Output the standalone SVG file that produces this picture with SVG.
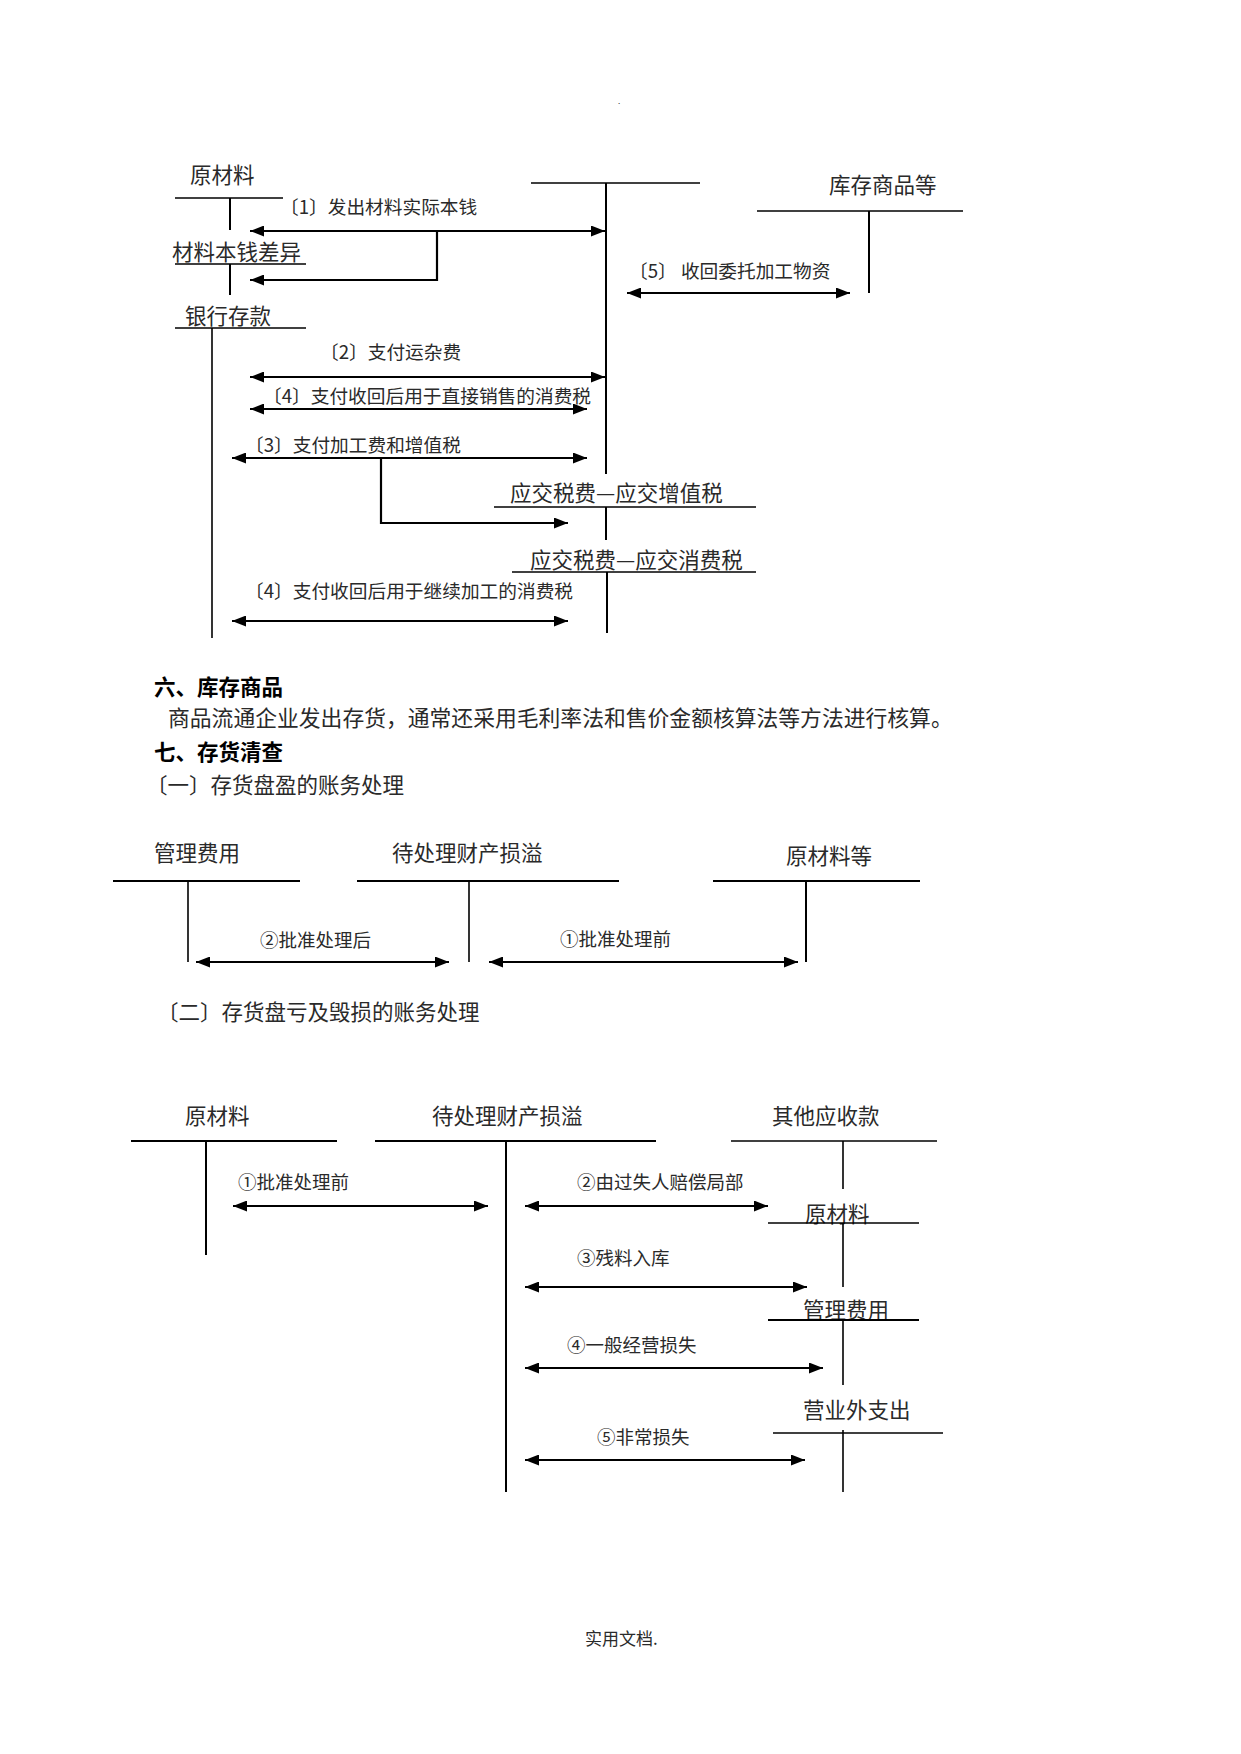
<svg xmlns="http://www.w3.org/2000/svg" width="1241" height="1754" viewBox="0 0 1241 1754">
<style>
text{font-family:"Noto Sans CJK SC","Liberation Serif",sans-serif;fill:#2a2a2a}
.t{font-size:21.5px}
.l{font-size:18.7px}
.c{font-size:18.5px}
.h{font-size:21.5px;font-weight:bold;fill:#000}
.b{font-size:21.5px}
.ln{stroke:#000;stroke-width:1.6;fill:none}
.vt{stroke:#000;stroke-width:2;fill:none}
.ar{stroke:#000;stroke-width:2.2;fill:none;marker-end:url(#ah);marker-start:url(#ah)}
.ae{stroke:#000;stroke-width:2.2;fill:none;marker-end:url(#ah)}
</style>
<defs>
<marker id="ah" viewBox="0 0 14 11" refX="14" refY="5.5" markerWidth="14" markerHeight="11" markerUnits="userSpaceOnUse" orient="auto-start-reverse">
<path d="M0,0 L14,5.5 L0,11 z" fill="#000"/>
</marker>
</defs>
<rect width="1241" height="1754" fill="#fff"/>
<text x="618" y="104" style="font-size:8px">.</text>

<!-- Top section accounts -->
<g id="acc-yuancailiao">
<text class="t" x="190" y="183">原材料</text>
<line class="ln" x1="175" y1="198" x2="283" y2="198"/>
<line class="vt" x1="230" y1="198" x2="230" y2="230"/>
</g>
<g id="acc-chayi">
<text class="t" x="172" y="260">材料本钱差异</text>
<line class="ln" x1="175" y1="264" x2="306" y2="264"/>
<line class="vt" x1="230" y1="264" x2="230" y2="295"/>
</g>
<g id="acc-yinhang">
<text class="t" x="185" y="324">银行存款</text>
<line class="ln" x1="175" y1="328" x2="306" y2="328"/>
<line class="ln" x1="212" y1="328" x2="212" y2="638"/>
</g>
<g id="acc-weituo">
<line class="ln" x1="531" y1="183" x2="700" y2="183"/>
<line class="vt" x1="606" y1="183" x2="606" y2="474"/>
</g>
<g id="acc-kucun">
<text class="t" x="829" y="193">库存商品等</text>
<line class="ln" x1="757" y1="211" x2="963" y2="211"/>
<line class="vt" x1="869" y1="211" x2="869" y2="293"/>
</g>
<g id="acc-zengzhi">
<text class="t" x="510" y="501">应交税费—应交增值税</text>
<line class="ln" x1="494" y1="507" x2="756" y2="507"/>
<line class="vt" x1="606" y1="507" x2="606" y2="540"/>
</g>
<g id="acc-xiaofei">
<text class="t" x="530" y="568">应交税费—应交消费税</text>
<line class="ln" x1="512" y1="572" x2="756" y2="572"/>
<line class="vt" x1="607" y1="572" x2="607" y2="633"/>
</g>

<!-- Text section -->
<text class="h" x="154" y="695">六、库存商品</text>
<text class="b" x="168" y="726" style="font-size:21.8px">商品流通企业发出存货，通常还采用毛利率法和售价金额核算法等方法进行核算。</text>
<text class="h" x="154" y="760">七、存货清查</text>
<text class="b" x="146" y="793">〔一〕存货盘盈的账务处理</text>

<!-- Section 3 accounts -->
<g id="acc-guanli1">
<text class="t" x="154" y="861">管理费用</text>
<line class="vt" x1="113" y1="881" x2="300" y2="881"/>
<line class="ln" x1="188" y1="881" x2="188" y2="962"/>
</g>
<g id="acc-daichuli1">
<text class="t" x="392" y="861">待处理财产损溢</text>
<line class="vt" x1="357" y1="881" x2="619" y2="881"/>
<line class="ln" x1="469" y1="881" x2="469" y2="962"/>
</g>
<g id="acc-yuancailiaodeng">
<text class="t" x="786" y="864">原材料等</text>
<line class="vt" x1="713" y1="881" x2="920" y2="881"/>
<line class="vt" x1="806" y1="881" x2="806" y2="962"/>
</g>

<text class="b" x="157" y="1020">〔二〕存货盘亏及毁损的账务处理</text>

<!-- Section 4 accounts -->
<g id="acc-yuancailiao2">
<text class="t" x="185" y="1124">原材料</text>
<line class="vt" x1="131" y1="1141" x2="337" y2="1141"/>
<line class="vt" x1="206" y1="1141" x2="206" y2="1255"/>
</g>
<g id="acc-daichuli2">
<text class="t" x="432" y="1124">待处理财产损溢</text>
<line class="vt" x1="375" y1="1141" x2="656" y2="1141"/>
<line class="vt" x1="506" y1="1141" x2="506" y2="1492"/>
</g>
<g id="acc-qitayingshou">
<text class="t" x="772" y="1124">其他应收款</text>
<line class="ln" x1="731" y1="1141" x2="937" y2="1141"/>
<line class="ln" x1="843" y1="1141" x2="843" y2="1189"/>
</g>
<g id="acc-yuancailiao3">
<text class="t" x="805" y="1222">原材料</text>
<line class="ln" x1="768" y1="1223" x2="919" y2="1223"/>
<line class="ln" x1="843" y1="1223" x2="843" y2="1287"/>
</g>
<g id="acc-guanli2">
<text class="t" x="803" y="1318">管理费用</text>
<line class="vt" x1="768" y1="1320" x2="919" y2="1320"/>
<line class="ln" x1="843" y1="1320" x2="843" y2="1385"/>
</g>
<g id="acc-yingyewai">
<text class="t" x="803" y="1418">营业外支出</text>
<line class="ln" x1="773" y1="1433" x2="943" y2="1433"/>
<line class="ln" x1="843" y1="1430" x2="843" y2="1492"/>
</g>

<!-- Connectors -->
<g id="connectors">
<line class="ar" x1="250" y1="231" x2="605" y2="231"/>
<polyline class="ae" points="437,231 437,280 250,280"/>
<line class="ar" x1="627" y1="293" x2="850" y2="293"/>
<line class="ar" x1="250" y1="377" x2="605" y2="377"/>
<line class="ar" x1="250" y1="409" x2="587" y2="409"/>
<line class="ar" x1="232" y1="458" x2="587" y2="458"/>
<polyline class="ae" points="381,458 381,523 568,523"/>
<line class="ar" x1="232" y1="621" x2="568" y2="621"/>

<line class="ar" x1="196" y1="962" x2="449" y2="962"/>
<line class="ar" x1="489" y1="962" x2="798" y2="962"/>

<line class="ar" x1="233" y1="1206" x2="488" y2="1206"/>
<line class="ar" x1="525" y1="1206" x2="768" y2="1206"/>
<line class="ar" x1="525" y1="1287" x2="807" y2="1287"/>
<line class="ar" x1="525" y1="1368" x2="823" y2="1368"/>
<line class="ar" x1="525" y1="1460" x2="805" y2="1460"/>
</g>

<!-- Connector labels -->
<g id="labels">
<text class="l" x="280" y="214">〔1〕发出材料实际本钱</text>
<text class="l" x="629" y="278">〔5〕  收回委托加工物资</text>
<text class="l" x="320" y="359">〔2〕支付运杂费</text>
<text class="l" x="263" y="403" xml:space="preserve">〔4〕支付收回后用于直接销售的消费税</text>
<text class="l" x="245" y="452">〔3〕支付加工费和增值税</text>
<text class="l" x="245" y="598">〔4〕支付收回后用于继续加工的消费税</text>
<text class="c" x="260" y="947">②批准处理后</text>
<text class="c" x="560" y="946">①批准处理前</text>
<text class="c" x="238" y="1189">①批准处理前</text>
<text class="c" x="577" y="1189">②由过失人赔偿局部</text>
<text class="c" x="577" y="1265">③残料入库</text>
<text class="c" x="567" y="1352">④一般经营损失</text>
<text class="c" x="597" y="1444">⑤非常损失</text>
</g>

<text x="585" y="1645" style="font-size:17px">实用文档.</text>
</svg>
